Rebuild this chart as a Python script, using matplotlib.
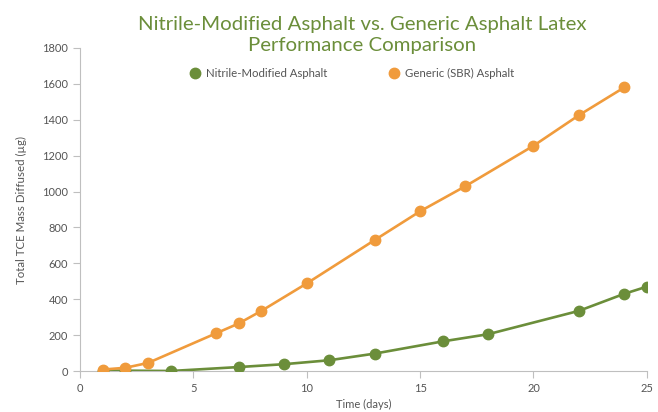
import matplotlib
matplotlib.use('Agg')
import matplotlib.pyplot as plt

plt.rcParams['font.family'] = ['Lato', 'DejaVu Sans']

# data
nitrile_days = [1, 2, 4, 7, 9, 11, 13, 16, 18, 22, 24, 25]
nitrile_mass = [2, 2, 0, 22, 38, 60, 97, 165, 205, 335, 430, 470]
sbr_days = [1, 2, 3, 6, 7, 8, 10, 13, 15, 17, 20, 22, 24]
sbr_mass = [8, 18, 45, 210, 265, 335, 488, 730, 890, 1030, 1255, 1425, 1580]

green = '#6b8e3a'
orange = '#f09b3c'
grey = '#bfbfbf'
txt = '#555555'

fig = plt.figure(figsize=(6.58, 4.12), dpi=100)
ax = fig.add_axes([0.1216, 0.0995, 0.8614, 0.784])

ax.plot(nitrile_days, nitrile_mass, color=green, lw=1.9, marker='o', ms=7.5,
        label='Nitrile-Modified Asphalt', zorder=3)
ax.plot(sbr_days, sbr_mass, color=orange, lw=1.9, marker='o', ms=7.5,
        label='Generic (SBR) Asphalt', zorder=3)

ax.set_xlim(0, 25)
ax.set_ylim(0, 1800)
ax.set_xticks(range(0, 26, 5))
ax.set_yticks(range(0, 1801, 200))

for s in ['top', 'right']:
    ax.spines[s].set_visible(False)
for s in ['left', 'bottom']:
    ax.spines[s].set_color(grey)
ax.tick_params(colors=grey, labelcolor=txt, labelsize=8, length=5)

ax.set_xlabel('Time (days)', fontsize=8, color=txt, labelpad=4)
ax.set_ylabel('Total TCE Mass Diffused (µg)', fontsize=8.3, color=txt, labelpad=11)

fig.text(0.551, 0.868, 'Nitrile-Modified Asphalt vs. Generic Asphalt Latex\nPerformance Comparison',
         ha='center', va='bottom', fontsize=14.7, color=green, linespacing=1.33)

leg = ax.legend(loc='center', bbox_to_anchor=(0.48, 0.922), ncol=2, frameon=False,
                fontsize=8.2, handlelength=0.9, handletextpad=0.5, columnspacing=5.4,
                borderaxespad=0)
for h in leg.legend_handles:
    h.set_linestyle('none')
for t in leg.get_texts():
    t.set_color(txt)

fig.savefig('out.png', dpi=100)
